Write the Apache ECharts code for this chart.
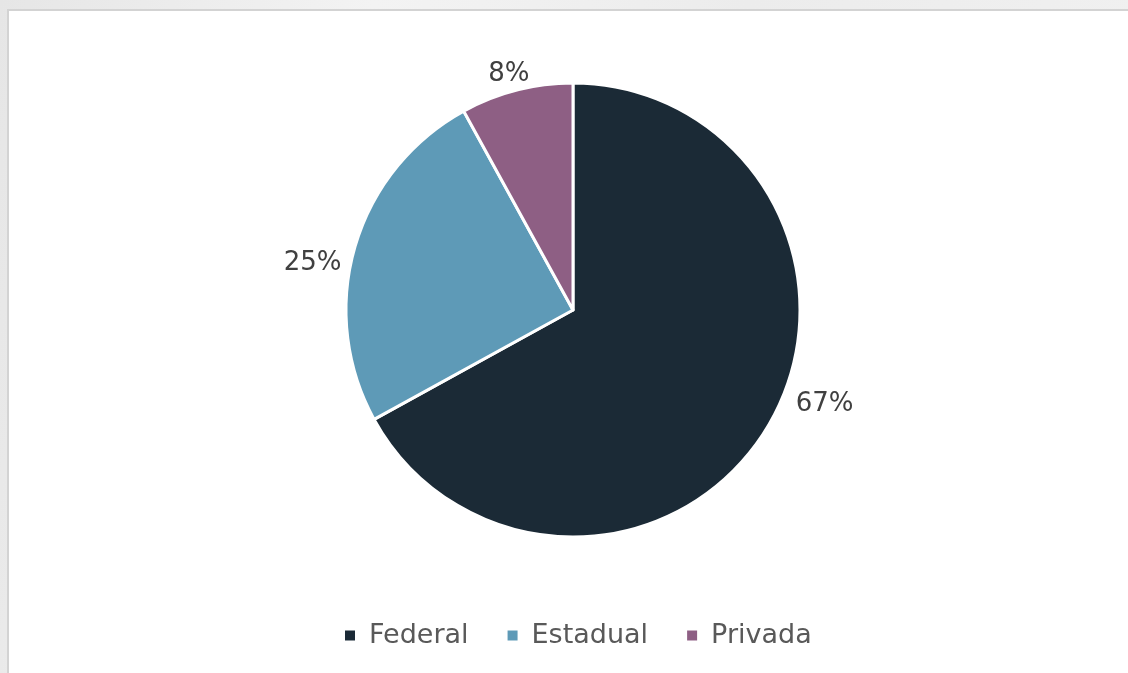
<!DOCTYPE html>
<html>
<head>
<meta charset="utf-8">
<script src="https://cdn.jsdelivr.net/npm/echarts@6/dist/echarts.min.js"></script>
<style>
  html, body { margin: 0; padding: 0; }
  body {
    width: 1128px; height: 673px; overflow: hidden;
    background: linear-gradient(100deg, #e6e6e6 0%, #f3f3f3 30%, #ececec 60%, #f1f1f1 100%);
  }
  #chart-frame {
    position: absolute; left: 7px; top: 9px; right: 0; bottom: 0;
    background: #fff;
    border-left: 2px solid #d3d3d3;
    border-top: 2px solid #d3d3d3;
  }
  #chart { width: 100%; height: 100%; }
</style>
</head>
<body>
<div id="chart-frame"><div id="chart"></div></div>
<script>
// categorias e valores (%)
const categories = ['Federal', 'Estadual', 'Privada']
const values = [67, 25, 8]
const colors = ['#1b2a36', '#5e9ab7', '#8e5f84']

// deslocamento dos rótulos (como no Excel, não ficam no meio da fatia)
const labelShift = [[12, -27], [3, 20], [21, -4]]

const fontFamily = '"DejaVu Sans", "Open Sans", sans-serif'

const chart = echarts.init(document.getElementById('chart'))

const option = {
  color: colors,
  animation: false,
  legend: {
    data: categories,
    left: 329,
    bottom: 19,
    icon: 'rect',
    itemWidth: 12,
    itemHeight: 12,
    itemGap: 37,
    textStyle: {
      fontFamily: fontFamily,
      fontSize: 27,
      color: '#595959',
      padding: [0, 0, 0, 8]
    }
  },
  series: [{
    type: 'pie',
    center: [564, 299],
    radius: 227,
    startAngle: 90,
    clockwise: true,
    itemStyle: {
      borderColor: '#fff',
      borderWidth: 3
    },
    label: {
      show: true,
      position: 'outside',
      formatter: '{d}%',
      fontFamily: fontFamily,
      fontSize: 26,
      color: '#404040'
    },
    labelLine: {
      show: false,
      length: 12,
      length2: 0
    },
    labelLayout: function (params) {
      const s = labelShift[params.dataIndex]
      return { dx: s[0], dy: s[1] }
    },
    emphasis: { disabled: true },
    data: categories.map((name, i) => ({ name: name, value: values[i] }))
  }]
}

chart.setOption(option)
</script>
</body>
</html>
